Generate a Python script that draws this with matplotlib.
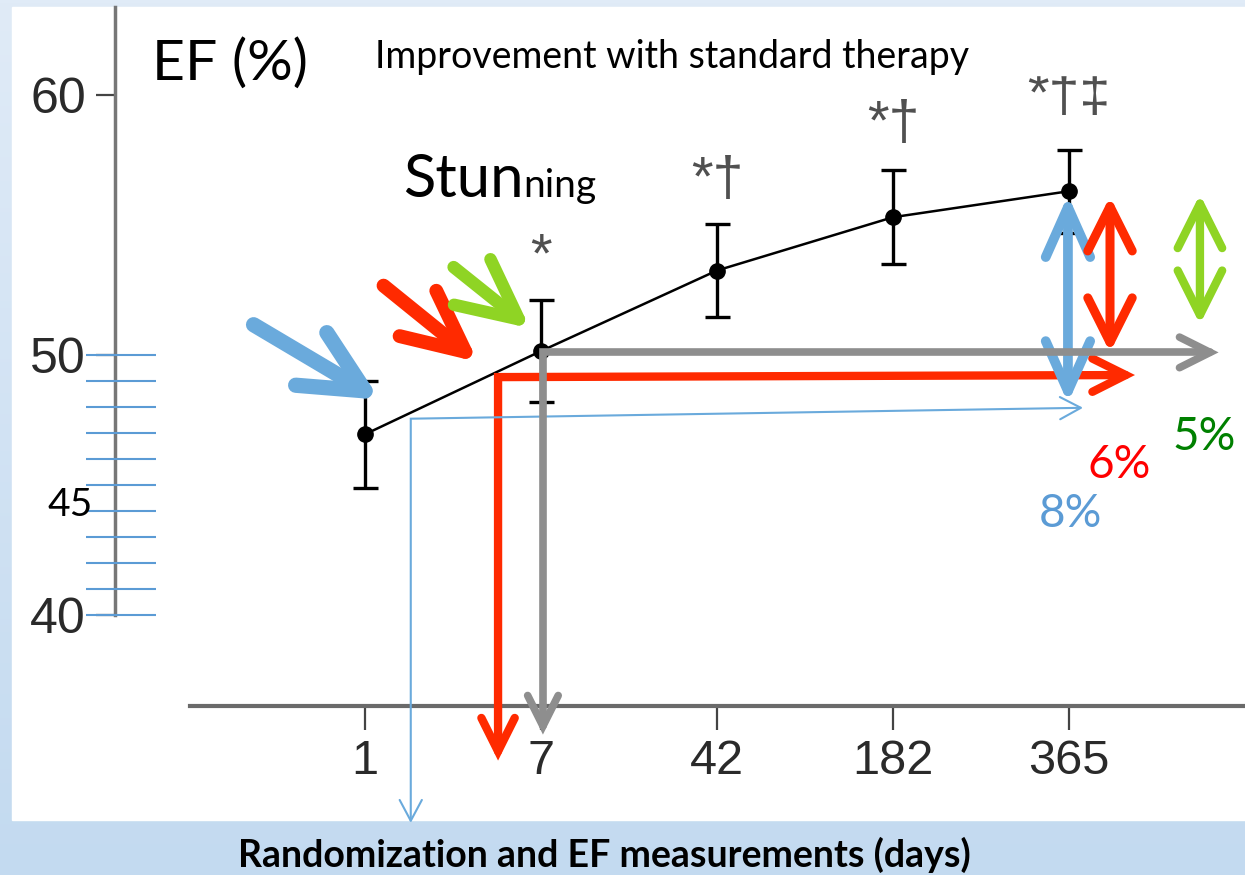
import numpy as np
import matplotlib
matplotlib.use("Agg")
import matplotlib.pyplot as plt
from matplotlib.colors import LinearSegmentedColormap
from matplotlib.patches import FancyArrowPatch, Rectangle
from matplotlib.path import Path

W, H = 1245, 875

# EF at each follow-up visit (days after randomization)
days = ["1", "7", "42", "182", "365"]
ef_mean = [46.95, 50.15, 53.25, 55.3, 56.3]
ef_err = [2.05, 1.95, 1.8, 1.8, 1.6]
signif = ["", "*", "*\u2020", "*\u2020", "*\u2020\u2021"]

# gain in EF up to one year, depending on the starting visit
gain_labels = ["8%", "6%", "5%"]
gain_values = [8, 6, 5]
gain_text_colors = ["#5b9bd5", "#ff0000", "#008000"]

BLUE = "#6aaadc"
RED = "#ff2a00"
GREEN = "#8fd424"
GREY = "#8e8e8e"
SLIDE_FONT = "Lato"
PLOT_FONT = "Liberation Sans"


def fx(px):
    return px / W


def fy(py):
    return 1 - py / H


fig = plt.figure(figsize=(W / 100, H / 100), dpi=100)

# slide background
bg = fig.add_axes([0, 0, 1, 1], zorder=-10)
bg.imshow(np.linspace(0, 1, 256)[:, None], aspect="auto", extent=[0, 1, 0, 1],
          cmap=LinearSegmentedColormap.from_list("bg", ["#e0ebf7", "#c3daf0"]))
bg.axis("off")
fig.add_artist(Rectangle((fx(12), fy(820)), fx(1245) - fx(12), fy(7) - fy(820),
                         transform=fig.transFigure, color="white", zorder=-5))

ax = fig.add_axes([fx(115), fy(706), fx(1245) - fx(115), fy(7) - fy(706)])
ax.patch.set_visible(False)
ax.set_xlim(-250 / 176, 880 / 176)
ax.set_ylim(50 - 351 / 26.0, 50 + 348 / 26.0)

for s in ["top", "right"]:
    ax.spines[s].set_visible(False)
ax.spines["left"].set_color("#777777")
ax.spines["left"].set_linewidth(2.5)
ax.spines["left"].set_bounds(40, ax.get_ylim()[1])
ax.spines["bottom"].set_color("#6a6a6a")
ax.spines["bottom"].set_linewidth(3)
ax.spines["bottom"].set_bounds(-0.994, ax.get_xlim()[1])

ax.set_yticks([40, 50, 60])
ax.set_xticks(range(len(days)), days)
ax.tick_params(axis="y", length=14, width=1.6, color="#444444", pad=7,
               labelsize=36, labelcolor="#2a2a2a")
ax.tick_params(axis="x", length=17, width=1.6, color="#444444", pad=7,
               labelsize=35, labelcolor="#2a2a2a")
for lab in ax.get_xticklabels() + ax.get_yticklabels():
    lab.set_family(PLOT_FONT)

# finer EF scale between 40 and 50
ax.hlines(list(range(40, 51)), -1.585, -1.1875, color="#5b9bd5", lw=1.5,
          clip_on=False, zorder=3)

ax.errorbar(range(len(days)), ef_mean, yerr=ef_err, fmt="-o", color="black",
            ms=11, lw=1.8, elinewidth=2.4, capsize=9, capthick=2.4, zorder=4)
mark_gap = [0, 12, 12, 14, 19]
for i, s in enumerate(signif):
    if s:
        ax.annotate(s, (i, ef_mean[i] + ef_err[i]), xytext=(0, mark_gap[i]),
                    textcoords="offset points", ha="center", va="bottom",
                    fontsize=40, color="#505050", family=PLOT_FONT, zorder=4)


def l_arrow(points, color, lw, hl, hw, z):
    path = Path(points, [Path.MOVETO] + [Path.LINETO] * (len(points) - 1))
    ax.add_patch(FancyArrowPatch(
        path=path, arrowstyle=f"<->,head_length={hl},head_width={hw}",
        color=color, lw=lw, mutation_scale=1, joinstyle="miter",
        capstyle="round", zorder=z, clip_on=False))


def pointer(tip, offset, color, lw, hl, hw):
    ax.annotate("", xy=tip, xytext=offset, textcoords="offset points",
                arrowprops=dict(arrowstyle=f"->,head_length={hl},head_width={hw}",
                                mutation_scale=1, lw=lw, color=color,
                                shrinkA=0, shrinkB=0, capstyle="round",
                                joinstyle="round"), zorder=9)


def span(x, centre, value, color, lw, hl, hw, z):
    ax.add_patch(FancyArrowPatch(
        (x, centre - value / 2), (x, centre + value / 2),
        arrowstyle=f"<->,head_length={hl},head_width={hw}", mutation_scale=1,
        shrinkA=0, shrinkB=0, color=color, lw=lw, capstyle="round",
        joinstyle="round", zorder=z, clip_on=False))


# start points carried forward to day 365
l_arrow([(0.756, 34.4), (0.756, 49.15), (4.375, 49.23)], RED, 6, 24, 12, 5)
l_arrow([(0.26, 32.0), (0.26, 47.55), (4.08, 47.97)], BLUE, 1.5, 15, 8, 6)

span(3.994, 52.15, gain_values[0], BLUE, 7, 36, 16, 7)
span(4.233, 53.1, gain_values[1], RED, 6.5, 32, 16, 7)
span(4.744, 53.68, gain_values[2], GREEN, 6, 32, 16, 7)

l_arrow([(1.011, 35.4), (1.011, 50.1), (4.85, 50.1)], GREY, 5.5, 22, 11, 8)

pointer((0.085, 48.28), (-91, 54), BLUE, 11, 45, 22)
pointer((0.642, 49.73), (-68, 55), RED, 10, 44, 21)
pointer((0.9375, 51.03), (-55, 44), GREEN, 9, 43, 21)

for (x, y), lab, c in zip([(4.011, 43.87), (4.284, 45.75), (4.77, 46.86)],
                          gain_labels, gain_text_colors):
    ax.text(x, y, lab, ha="center", va="center", fontsize=33, color=c,
            family=SLIDE_FONT)

# title sits on a white box over the top of the chart
fig.add_artist(Rectangle((fx(360), fy(75)), fx(1113) - fx(360), fy(12) - fy(75),
                         transform=fig.transFigure, color="white", zorder=1))
fig.text(fx(375), fy(68), "Improvement with standard therapy", fontsize=27,
         family=SLIDE_FONT, va="baseline", zorder=2)
fig.text(fx(152), fy(80), "EF (%)", fontsize=41, family=SLIDE_FONT,
         va="baseline", zorder=2)
fig.text(fx(47), fy(516), "45", fontsize=28, family=SLIDE_FONT,
         va="baseline", zorder=2)
stun = fig.text(fx(403), fy(197), "Stun", fontsize=43, family=SLIDE_FONT,
                va="baseline", zorder=2)
fig.canvas.draw()
right = stun.get_window_extent().x1
fig.text(right / W, fy(197), "ning", fontsize=28, family=SLIDE_FONT,
         va="baseline", zorder=2)
fig.text(fx(604), fy(867), "Randomization and EF measurements (days)",
         fontsize=27, family=SLIDE_FONT, weight="bold", ha="center",
         va="baseline", zorder=2)

fig.savefig("out.png", dpi=100)
